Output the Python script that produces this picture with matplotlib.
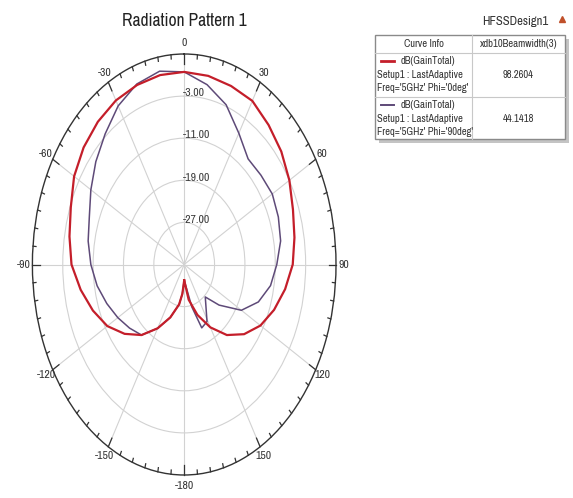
import numpy as np
import matplotlib
matplotlib.use("Agg")
import matplotlib.pyplot as plt
from matplotlib import font_manager as fm
from matplotlib.patches import Rectangle

# ---------------- font choice: prefer a narrow sans face ----------------
def pick_font():
    cands = []
    for e in fm.fontManager.ttflist:
        fn = e.fname.lower()
        if ('narrow' in fn or 'condensed' in fn) and e.style == 'normal' and \
                e.weight in (400, 'normal', 'regular') and 'mono' not in fn and \
                'serif' not in e.name.lower() and 'light' not in fn:
            cands.append(e)
    order = ['narrow', 'roboto', 'opensans', 'open', 'liberation', 'noto', 'dejavu']
    def rank(e):
        fn = e.fname.lower().replace(' ', '')
        for i, k in enumerate(order):
            if k in fn:
                return i
        return len(order)
    if cands:
        cands.sort(key=rank)
        return cands[0].name, cands[0].stretch
    return 'Liberation Sans', 'normal'

FAMILY, STRETCH = pick_font()
plt.rcParams['font.family'] = [FAMILY, 'Liberation Sans', 'DejaVu Sans']
plt.rcParams['font.stretch'] = STRETCH

# ---------------- data ----------------
title = "Radiation Pattern 1"
r_min, r_max = -35.0, 5.0
ring_values = [-27.0, -19.0, -11.0, -3.0]
angle_ticks = [0, 30, 60, 90, 120, 150, 180, 210, 240, 270, 300, 330]
angle_labels = ["0", "30", "60", "90", "120", "150", "-180", "-150", "-120", "-90", "-60", "-30"]

theta_phi0 = [-180, -175, -170, -160, -150, -140, -130, -120, -110, -100, -90, -80, -70,
              -60, -50, -40, -30, -20, -10, 0, 10, 20, 30, 40, 50, 60, 70, 80, 90, 100,
              110, 120, 130, 140, 150, 160, 170, 180]
gain_phi0 = [-32.0, -29.4, -27.3, -24.3, -21.0, -17.5, -14.5, -11.6, -9.4, -7.3, -5.3, -4.3,
             -3.2, -1.5, -0.4, 0.4, 1.0, 1.3, 1.55, 1.6, 1.4, 1.1, 0.9, -0.4, -1.6, -3.0,
             -4.5, -5.5, -6.4, -8.0, -9.8, -11.8, -14.4, -17.5, -21.2, -24.8, -28.2, -32.0]

theta_phi90 = [-180, -175, -170, -160, -150, -140, -130, -120, -110, -100, -90, -80, -70,
               -60, -50, -40, -30, -20, -10, 0, 10, 20, 30, 40, 50, 60, 70, 80, 90, 100,
               110, 120, 130, 138, 151, 159, 166, 180]
gain_phi90 = [-32.0, -29.4, -27.3, -24.3, -21.0, -17.5, -16.2, -14.8, -13.3, -11.7, -10.4,
              -9.3, -8.4, -6.6, -4.6, -2.6, -0.2, 1.5, 2.3, 1.6, -0.3, -2.7, -6.2, -8.8,
              -8.6, -8.2, -8.6, -9.2, -10.6, -11.9, -14.2, -17.6, -23.0, -26.7, -22.6,
              -22.1, -26.7, -32.0]

legend_labels = [["dB(GainTotal)", "Setup1 : LastAdaptive", "Freq='5GHz' Phi='0deg'"],
                 ["dB(GainTotal)", "Setup1 : LastAdaptive", "Freq='5GHz' Phi='90deg'"]]
beamwidths = ["98.2604", "44.1418"]
series_colors = ['#c41e2a', '#5e4a78']
series_widths = [1.6, 1.1]

W, H = 573, 498
fig = plt.figure(figsize=(W / 100, H / 100), dpi=100)
fig.patch.set_facecolor('white')
renderer = fig.canvas.get_renderer()


def fit_size(s, target_px, height_pt, base=10.0):
    t = fig.text(0, 0, s, fontsize=base)
    w = t.get_window_extent(renderer).width
    t.remove()
    wfit = base * target_px / w
    return float(np.sqrt(wfit * height_pt))


SZ_TITLE = fit_size(title, 122, 13.0)
SZ_TABLE = fit_size("Setup1 : LastAdaptive", 82, 8.0)
SZ_RING = fit_size("-27.00", 27, 8.5)
SZ_ANG = fit_size("-120", 18.5, 8.5)
SZ_DESIGN = fit_size("HFSSDesign1", 64, 9.5)

# overlay axes in pixel coordinates (for title/table)
ov = fig.add_axes([0, 0, 1, 1], zorder=0)
ov.set_xlim(0, W)
ov.set_ylim(H, 0)
ov.axis('off')

# polar axes (elliptical like the reference)
cx, cy, rh, rv = 184.2, 264.5, 151.8, 210.5
ax = fig.add_axes([(cx - rh) / W, 1 - (cy + rv) / H, 2 * rh / W, 2 * rv / H],
                  projection='polar', zorder=1)
ax.set_aspect('auto')
ax.patch.set_alpha(0)
ax.set_theta_zero_location('N')
ax.set_theta_direction(-1)
ax.set_ylim(r_min, r_max)
ax.set_thetagrids(angle_ticks, labels=[''] * len(angle_ticks))
ax.set_rgrids(ring_values, labels=[''] * len(ring_values))
ax.grid(True, color='#d2d2d2', lw=0.8)
ax.spines['polar'].set_color('#333333')
ax.spines['polar'].set_linewidth(1.0)
ax.tick_params(axis='both', length=0)

# outer ring ticks
for a in range(0, 360, 5):
    t = np.deg2rad(a)
    ln = 1.9 if a % 30 == 0 else 0.8
    ax.plot([t, t], [r_max, r_max - ln], color='#333333', lw=0.9, clip_on=False, zorder=3)

# angle labels
for a, lab in zip(angle_ticks, angle_labels):
    k = 1.055 if a in (90, 270) else 1.05
    ax.text(np.deg2rad(a), r_min + k * (r_max - r_min), lab, ha='center', va='center',
            fontsize=SZ_ANG, color='#333333')

# ring labels
for v in ring_values:
    ax.annotate(f"{v:.2f}", xy=(0, v), xytext=(-1.0, 2.0), textcoords='offset points',
                ha='left', va='center', fontsize=SZ_RING, color='#3a3a3a', zorder=4)

# curves (red drawn above purple where they overlap)
ax.plot(np.deg2rad(theta_phi90), gain_phi90, color=series_colors[1], lw=series_widths[1], zorder=5)
ax.plot(np.deg2rad(theta_phi0), gain_phi0, color=series_colors[0], lw=series_widths[0], zorder=6)

# title
ov.text(184, 21, title, ha='center', va='center', fontsize=SZ_TITLE, color='#222222')

# design label and icon
ov.text(515, 21, "HFSSDesign1", ha='center', va='center', fontsize=SZ_DESIGN, color='#333333')
ov.plot([562], [18.5], marker='^', ms=5, color='#c0502a', clip_on=False)

# legend table
x0, x1, xm = 375, 565, 472
y0, y1, y2, y3 = 34.5, 53, 97, 138.5
ov.add_patch(Rectangle((x0 + 4, y0 + 4), x1 - x0, y3 - y0, facecolor='#c4c4c4', edgecolor='none', zorder=1))
ov.add_patch(Rectangle((x0, y0), x1 - x0, y3 - y0, facecolor='white', edgecolor='#8a8a8a', lw=1.0, zorder=2))
for yy in (y1, y2):
    ov.plot([x0, x1], [yy, yy], color='#c8c8c8', lw=0.8, zorder=3)
ov.plot([xm, xm], [y0, y3], color='#c8c8c8', lw=0.8, zorder=3)
ov.text((x0 + xm) / 2, 43.5, "Curve Info", ha='center', va='center', fontsize=SZ_TABLE, color='#333333', zorder=4)
ov.text((xm + x1) / 2, 43.5, "xdb10Beamwidth(3)", ha='center', va='center', fontsize=SZ_TABLE, color='#333333', zorder=4)
row_tops = [y1, y2]
for i in range(2):
    base = row_tops[i]
    ov.plot([381, 394], [base + 8, base + 8], color=series_colors[i], lw=2.0 if i == 0 else 1.4, zorder=4)
    ov.text(401, base + 8, legend_labels[i][0], ha='left', va='center', fontsize=SZ_TABLE, color='#333333', zorder=4)
    ov.text(377, base + 21.5, legend_labels[i][1], ha='left', va='center', fontsize=SZ_TABLE, color='#333333', zorder=4)
    ov.text(377, base + 34.8, legend_labels[i][2], ha='left', va='center', fontsize=SZ_TABLE, color='#333333', zorder=4)
    ov.text((xm + x1) / 2, base + 21.5, beamwidths[i], ha='center', va='center', fontsize=SZ_TABLE, color='#333333', zorder=4)

fig.savefig('out.png', dpi=100, facecolor='white')
